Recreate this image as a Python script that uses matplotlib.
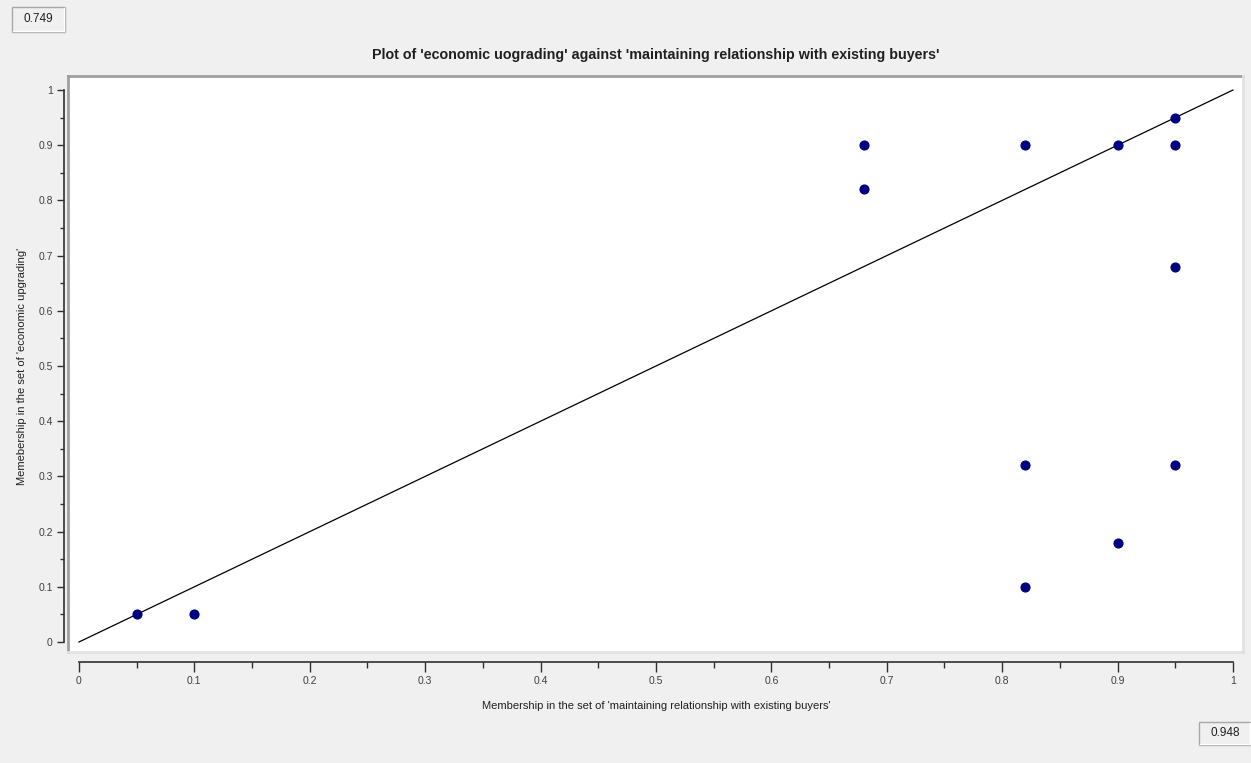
import matplotlib
matplotlib.use('Agg')
import matplotlib.pyplot as plt
from matplotlib.ticker import MultipleLocator, FixedFormatter, FixedLocator
from matplotlib.lines import Line2D
from matplotlib.patches import Rectangle

# fuzzy-set memberships per case
buyers = [0.05, 0.10, 0.68, 0.68, 0.82, 0.90, 0.95, 0.95, 0.95, 0.82, 0.95, 0.90, 0.82]
upgrading = [0.05, 0.05, 0.90, 0.82, 0.90, 0.90, 0.95, 0.90, 0.68, 0.32, 0.32, 0.18, 0.10]

tick_vals = [0, 0.1, 0.2, 0.3, 0.4, 0.5, 0.6, 0.7, 0.8, 0.9, 1]
tick_text = ['0', '0.1', '0.2', '0.3', '0.4', '0.5', '0.6', '0.7', '0.8', '0.9', '1']

title = "Plot of 'economic uograding' against 'maintaining relationship with existing buyers'"
xlab = "Membership in the set of 'maintaining relationship with existing buyers'"
ylab = "Memebership in the set of 'economic upgrading'"
consistency = '0.749'
coverage = '0.948'

plt.rcParams['font.family'] = ['Liberation Sans', 'DejaVu Sans']

W, H = 1251, 763
fig = plt.figure(figsize=(W / 100, H / 100), dpi=100)
fig.patch.set_facecolor('#f0f0f0')

# plotting area in pixels
L, R, T, B = 68, 1243, 76, 652
ax = fig.add_axes([L / W, (H - B) / H, (R - L) / W, (B - T) / H])
ax.set_facecolor('white')
ax.set_xlim(-0.0095, 1.0087)
ax.set_ylim(-0.0181, 1.0254)

ax.plot([0, 1], [0, 1], color='black', lw=0.9)
ax.plot(buyers, upgrading, 'o', color='#000080', ms=6.3, mec='#000080')

for s in ['top', 'right']:
    ax.spines[s].set_visible(False)
ax.spines['left'].set_position(('outward', 3))
ax.spines['bottom'].set_position(('outward', 7))
ax.spines['left'].set_bounds(0, 1)
ax.spines['bottom'].set_bounds(0, 1)
for s in ['left', 'bottom']:
    ax.spines[s].set_color('#303030')
    ax.spines[s].set_linewidth(1.2)

for a in (ax.xaxis, ax.yaxis):
    a.set_major_locator(FixedLocator(tick_vals))
    a.set_major_formatter(FixedFormatter(tick_text))
    a.set_minor_locator(MultipleLocator(0.05))
ax.tick_params(axis='x', which='major', length=7.5, width=1, color='#303030',
               labelsize=7.5, labelcolor='#404040', pad=3)
ax.tick_params(axis='x', which='minor', length=4.5, width=1, color='#303030')
ax.tick_params(axis='y', which='major', length=5, width=1, color='#303030',
               labelsize=7.5, labelcolor='#404040', pad=3)
ax.tick_params(axis='y', which='minor', length=3, width=1, color='#303030')

# sunken frame round the plotting area
def px_line(x0, y0, x1, y1, c, lw):
    fig.add_artist(Line2D([x0 / W, x1 / W], [1 - y0 / H, 1 - y1 / H],
                          color=c, lw=lw, transform=fig.transFigure))

px_line(L, T, R, T, '#a0a0a0', 2)
px_line(L, T, L, B, '#a0a0a0', 2)
px_line(R, T, R, B, '#e2e2e2', 2)
px_line(L, B, R, B, '#e2e2e2', 2)

fig.text(656 / W, 1 - 55 / H, title, ha='center', va='center',
         fontsize=10.3, fontweight='bold', color='#202020')
fig.text(656 / W, 1 - 706 / H, xlab, ha='center', va='center',
         fontsize=8, color='#202020')
fig.text(22 / W, 1 - 366 / H, ylab, ha='center', va='center',
         fontsize=8, color='#202020', rotation=90)

# value boxes: consistency top-left, coverage bottom-right
def value_box(x0, y0, x1, y1, txt):
    fig.add_artist(Rectangle((x0 / W, 1 - y1 / H), (x1 - x0) / W, (y1 - y0) / H,
                             transform=fig.transFigure, fc='#f0f0f0',
                             ec='#a8a8a8', lw=1))
    px_line(x0 + 1, y1 - 1, x1 - 1, y1 - 1, '#ffffff', 1)
    px_line(x1 - 1, y0 + 1, x1 - 1, y1 - 1, '#ffffff', 1)
    fig.text((x0 + x1) / 2 / W, 1 - (y0 + y1) / 2 / H, txt, ha='center',
             va='center', fontsize=8.5, color='#202020')

value_box(12, 7, 65, 32, consistency)
value_box(1199, 722, 1251, 745, coverage)

fig.savefig('out.png', dpi=100, facecolor=fig.get_facecolor())
